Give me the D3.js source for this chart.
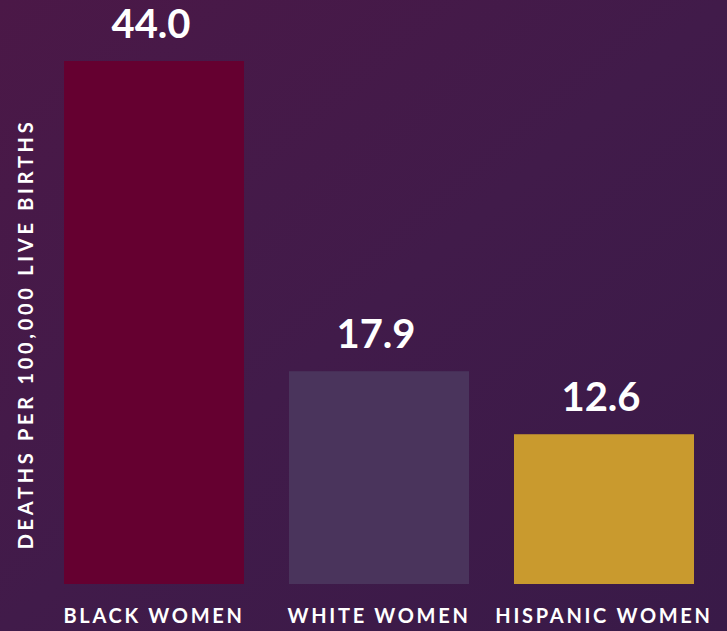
<!DOCTYPE html>
<html>
<head>
<meta charset="utf-8">
<script src="https://cdn.jsdelivr.net/npm/d3@7"></script>
<style>
  html, body { margin: 0; padding: 0; background: #3f1a48; }
  svg { display: block; }
  text { font-family: Lato, "Open Sans", sans-serif; font-weight: 700; fill: #ffffff; }
</style>
</head>
<body>
<svg id="chart" width="727" height="631"></svg>
<script>
const categories = ["BLACK WOMEN", "WHITE WOMEN", "HISPANIC WOMEN"];
const values = [44.0, 17.9, 12.6];
const valueLabels = ["44.0", "17.9", "12.6"];
const barColors = ["#650030", "#4a345c", "#c99a2e"];
const yTitle = "DEATHS PER 100,000 LIVE BIRTHS";

const W = 727, H = 631;
const svg = d3.select("#chart");

const defs = svg.append("defs");
const grad = defs.append("linearGradient")
  .attr("id", "bg").attr("x1", "0").attr("y1", "0").attr("x2", "1").attr("y2", "1");
grad.append("stop").attr("offset", "0%").attr("stop-color", "#4b1847");
grad.append("stop").attr("offset", "50%").attr("stop-color", "#411b4a");
grad.append("stop").attr("offset", "100%").attr("stop-color", "#391a48");
svg.append("rect").attr("width", W).attr("height", H).attr("fill", "url(#bg)");

const x = d3.scaleBand().domain(categories).range([64, 694]).paddingInner(0.2).paddingOuter(0);
const y = d3.scaleLinear().domain([0, 44]).range([584, 61]);

const data = categories.map((c, i) => ({ c, v: values[i], label: valueLabels[i], color: barColors[i] }));

svg.selectAll("rect.bar").data(data).enter().append("rect")
  .attr("class", "bar")
  .attr("x", d => x(d.c))
  .attr("y", d => y(d.v))
  .attr("width", x.bandwidth())
  .attr("height", d => y(0) - y(d.v))
  .attr("fill", d => d.color);

svg.selectAll("text.val").data(data).enter().append("text")
  .attr("class", "val")
  .attr("x", d => x(d.c) + x.bandwidth() / 2 - 3)
  .attr("y", d => y(d.v) - 23)
  .attr("text-anchor", "middle")
  .style("font-size", "40px")
  .text(d => d.label);

const xAxis = d3.axisBottom(x).tickSize(0).tickPadding(0);
const gx = svg.append("g").attr("transform", "translate(0,609)").call(xAxis);
gx.select(".domain").remove();
gx.selectAll("text")
  .attr("y", 0).attr("dy", "0.72em")
  .style("font-size", "20px")
  .style("letter-spacing", "2.7px")
  .style("font-family", "Lato, sans-serif")
  .style("font-weight", 700)
  .attr("fill", "#ffffff");

svg.append("text")
  .attr("transform", "translate(33,334) rotate(-90)")
  .attr("text-anchor", "middle")
  .style("font-size", "20px")
  .style("letter-spacing", "3.7px")
  .text(yTitle);
</script>
</body>
</html>
